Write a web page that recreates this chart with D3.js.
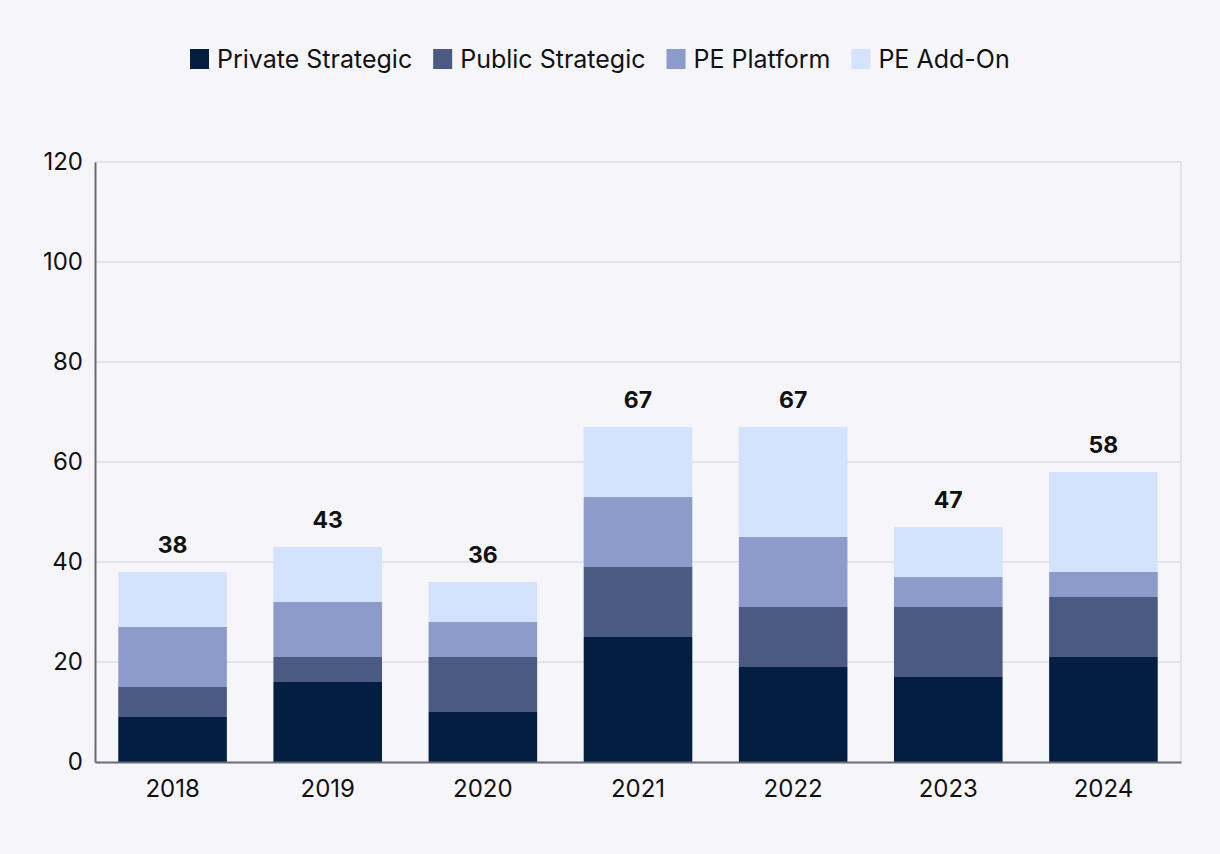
<!DOCTYPE html>
<html>
<head>
<meta charset="utf-8">
<script src="https://cdn.jsdelivr.net/npm/d3@7"></script>
<style>
  body { margin: 0; background: #f5f5fa; }
  svg { display: block; font-family: Inter, "Noto Sans", sans-serif; }
</style>
</head>
<body>
<svg></svg>
<script>
let years = ['2018', '2019', '2020', '2021', '2022', '2023', '2024'];
let seriesNames = ['Private Strategic', 'Public Strategic', 'PE Platform', 'PE Add-On'];
let privateStrategic = [9, 16, 10, 25, 19, 17, 21];
let publicStrategic = [6, 5, 11, 14, 12, 14, 12];
let pePlatform = [12, 11, 7, 14, 14, 6, 5];
let peAddOn = [11, 11, 8, 14, 22, 10, 20];
let yTicks = [0, 20, 40, 60, 80, 100, 120];
let colors = ['#041e42', '#4a5a82', '#8c9bc9', '#d3e3fd'];

let width = 1220;
let height = 854;
let margin = { top: 162, right: 39, bottom: 92, left: 95 };

let svg = d3.select('svg')
            .attr('width', width)
            .attr('height', height);

// build rows for the stack
let rows = years.map((y, i) => ({
    year: y,
    'Private Strategic': privateStrategic[i],
    'Public Strategic': publicStrategic[i],
    'PE Platform': pePlatform[i],
    'PE Add-On': peAddOn[i]
}));
let stacked = d3.stack().keys(seriesNames)(rows);

let xScale = d3.scaleBand()
               .domain(years)
               .range([margin.left, width - margin.right])
               .paddingInner(0.3)
               .paddingOuter(0.15);

let yScale = d3.scaleLinear()
               .domain([0, 120])
               .range([height - margin.bottom, margin.top]);

// gridlines
svg.append('g')
   .selectAll('line')
   .data(yTicks.slice(1))
   .enter()
   .append('line')
   .attr('x1', margin.left)
   .attr('x2', width - margin.right)
   .attr('y1', d => yScale(d))
   .attr('y2', d => yScale(d))
   .attr('stroke', '#dedde4')
   .attr('stroke-width', 1.5);

svg.append('line')
   .attr('x1', width - margin.right)
   .attr('x2', width - margin.right)
   .attr('y1', yScale(120))
   .attr('y2', yScale(0))
   .attr('stroke', '#dedde4')
   .attr('stroke-width', 1.5);

// bars
svg.append('g')
   .selectAll('g')
   .data(stacked)
   .enter()
   .append('g')
   .attr('fill', (d, i) => colors[i])
   .selectAll('rect')
   .data(d => d)
   .enter()
   .append('rect')
   .attr('x', d => xScale(d.data.year))
   .attr('width', xScale.bandwidth())
   .attr('y', d => yScale(d[1]))
   .attr('height', d => yScale(d[0]) - yScale(d[1]));

// totals
svg.append('g')
   .selectAll('text')
   .data(rows)
   .enter()
   .append('text')
   .attr('x', d => xScale(d.year) + xScale.bandwidth() / 2)
   .attr('y', d => yScale(seriesNames.reduce((s, k) => s + d[k], 0)) - 19)
   .attr('text-anchor', 'middle')
   .attr('font-size', 23)
   .attr('font-weight', 700)
   .attr('fill', '#111')
   .text(d => seriesNames.reduce((s, k) => s + d[k], 0));

// axes
let xAxis = d3.axisBottom(xScale).tickSize(0).tickPadding(18);
let yAxis = d3.axisLeft(yScale).tickValues(yTicks).tickSize(0).tickPadding(12);

let gx = svg.append('g')
            .attr('transform', `translate(0, ${height - margin.bottom})`)
            .call(xAxis);
gx.select('.domain').attr('stroke', '#696c73').attr('stroke-width', 2);
gx.selectAll('text').attr('font-size', 24).attr('fill', '#111').attr('font-family', 'Inter, sans-serif');

let gy = svg.append('g')
            .attr('transform', `translate(${margin.left}, 0)`)
            .call(yAxis);
gy.select('.domain').attr('stroke', '#696c73').attr('stroke-width', 2);
gy.selectAll('text').attr('font-size', 24).attr('fill', '#111').attr('font-family', 'Inter, sans-serif');

// legend
let legend = svg.append('g').attr('id', 'legend');
let lx = 190;
seriesNames.forEach((name, i) => {
    let item = legend.append('g').attr('transform', `translate(${lx}, 59)`);
    item.append('rect')
        .attr('x', 0)
        .attr('y', -10)
        .attr('width', 19)
        .attr('height', 20)
        .attr('fill', colors[i]);
    let t = item.append('text')
        .attr('x', 27)
        .attr('y', 0)
        .attr('dy', '0.35em')
        .attr('font-size', 25)
        .attr('fill', '#111')
        .text(name);
    lx += 27 + t.node().getComputedTextLength() + 21;
});
</script>
</body>
</html>
